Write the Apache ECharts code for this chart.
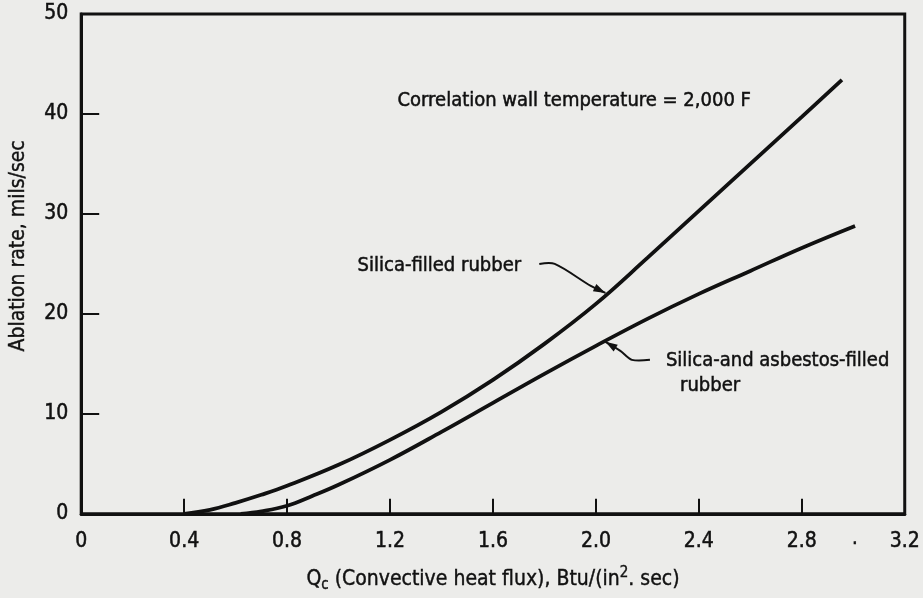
<!DOCTYPE html>
<html><head><meta charset="utf-8">
<script src="https://cdn.jsdelivr.net/npm/echarts@6/dist/echarts.min.js"></script>
<style>html,body{margin:0;padding:0;background:#ececea;}#c{width:923px;height:598px;}</style>
</head><body><div id="c"></div>
<script>
// Data
const silicaX = [0.40, 0.50, 0.60, 0.70, 0.80, 1.00, 1.20, 1.40, 1.60, 1.80, 2.00, 2.20, 2.40, 2.60, 2.80, 2.956];
const silicaY = [0.0, 0.4, 1.1, 1.9, 2.8, 4.9, 7.4, 10.2, 13.4, 17.0, 21.0, 25.6, 30.3, 35.0, 39.7, 43.4];
const asbestosX = [0.62, 0.70, 0.80, 0.90, 1.00, 1.20, 1.40, 1.60, 1.80, 2.00, 2.20, 2.40, 2.60, 2.80, 3.007];
const asbestosY = [0.0, 0.25, 0.8, 1.8, 2.9, 5.4, 8.2, 11.1, 14.0, 16.8, 19.5, 22.0, 24.3, 26.6, 28.8];
const xTicks = ['0', '0.4', '0.8', '1.2', '1.6', '2.0', '2.4', '2.8', '3.2'];
const yTicks = ['0', '10', '20', '30', '40', '50'];

const FONT = '"Liberation Sans Narrow","DejaVu Sans Condensed","Liberation Sans",sans-serif';
const INK = '#111';
const chart = echarts.init(document.getElementById('c'));
const pair = (xs, ys) => xs.map((x, i) => [x, ys[i]]);

chart.setOption({
  backgroundColor: '#ececea',
  animation: false,
  grid: {left: 80, right: 15, top: 14, bottom: 81, show: true, borderColor: INK, borderWidth: 3, backgroundColor: 'transparent'},
  xAxis: {
    type: 'value', min: 0, max: 3.2, interval: 0.4,
    axisLine: {show: true, lineStyle: {color: INK, width: 3}},
    axisTick: {show: true, inside: true, length: 15, lineStyle: {color: INK, width: 2}},
    splitLine: {show: false},
    axisLabel: {color: INK, fontFamily: FONT, fontSize: 21, margin: 17, textBorderColor: INK, textBorderWidth: 0.5,
      formatter: (v) => xTicks[Math.round(v / 0.4)] || ''},
    name: '{q|Q}{sub|c} (Convective heat flux), Btu/(in{sup|2}. sec)',
    nameLocation: 'middle', nameGap: 52,
    nameTextStyle: {color: INK, fontFamily: FONT, fontSize: 21, textBorderColor: INK, textBorderWidth: 0.4,
      rich: {q: {fontFamily: FONT, fontSize: 21, color: INK, textBorderColor: INK, textBorderWidth: 0.4},
             sub: {fontFamily: FONT, fontSize: 15, color: INK, textBorderColor: INK, textBorderWidth: 0.4, verticalAlign: 'bottom', padding: [12, 0, 0, 0]},
             sup: {fontFamily: FONT, fontSize: 15, color: INK, textBorderColor: INK, textBorderWidth: 0.4, verticalAlign: 'top', padding: [0, 0, 10, 0]}}}
  },
  yAxis: {
    type: 'value', min: 0, max: 50, interval: 10,
    axisLine: {show: true, lineStyle: {color: INK, width: 3}},
    axisTick: {show: true, inside: true, length: 18, lineStyle: {color: INK, width: 2}},
    splitLine: {show: false},
    axisLabel: {color: INK, fontFamily: FONT, fontSize: 21, margin: 13, textBorderColor: INK, textBorderWidth: 0.5,
      formatter: (v) => yTicks[Math.round(v / 10)] || ''},
    name: 'Ablation rate, mils/sec', nameLocation: 'middle', nameGap: 52, nameRotate: 90,
    nameTextStyle: {color: INK, fontFamily: FONT, fontSize: 21, textBorderColor: INK, textBorderWidth: 0.4, padding: [0, 0, 0, 36]}
  },
  series: [
    {name: 'Silica-filled rubber', type: 'line', data: pair(silicaX, silicaY), smooth: 0.4, showSymbol: false,
     lineStyle: {color: INK, width: 3.8}},
    {name: 'Silica-and asbestos-filled rubber', type: 'line', data: pair(asbestosX, asbestosY), smooth: 0.4, showSymbol: false,
     lineStyle: {color: INK, width: 3.8}}
  ]
});

// Annotations positioned from data coordinates
const P = (x, y) => chart.convertToPixel({gridIndex: 0}, [x, y]);
const txt = (pt, text) => ({type: 'text', x: pt[0], y: pt[1],
  style: {text: text, fill: INK, font: '20px ' + FONT, textVerticalAlign: 'middle', stroke: INK, lineWidth: 0.5}});
const arrowHead = (tip, from, len, half) => {
  const dx = tip[0] - from[0], dy = tip[1] - from[1], d = Math.hypot(dx, dy);
  const ux = dx / d, uy = dy / d;
  const bx = tip[0] - ux * len, by = tip[1] - uy * len;
  return {type: 'polygon', shape: {points: [tip, [bx - uy * half, by + ux * half], [bx + uy * half, by - ux * half]]}, style: {fill: INK}};
};

const a1Tip = P(2.037, 22.1), a1Start = P(1.78, 25.0), a1Mid = P(1.84, 25.0), a1Bend = P(1.98, 22.8);
const a2Tip = P(2.037, 17.2), a2Start = P(2.21, 15.4), a2Mid = P(2.14, 15.4), a2Bend = P(2.095, 16.3);

chart.setOption({graphic: [
  txt(P(1.229, 41.35), 'Correlation wall temperature = 2,000 F'),
  txt(P(1.074, 24.85), 'Silica-filled rubber'),
  txt(P(2.272, 15.3), 'Silica-and asbestos-filled'),
  txt(P(2.327, 12.8), 'rubber'),
  txt(P(2.995, -2.5), '.'),
  {type: 'polyline', shape: {points: [a1Start, a1Mid, a1Bend, a1Tip], smooth: 0.3}, style: {stroke: INK, lineWidth: 2, fill: null}},
  arrowHead(a1Tip, a1Bend, 12, 4),
  {type: 'polyline', shape: {points: [a2Start, a2Mid, a2Bend, a2Tip], smooth: 0.3}, style: {stroke: INK, lineWidth: 2, fill: null}},
  arrowHead(a2Tip, a2Bend, 12, 4)
]});
</script></body></html>
